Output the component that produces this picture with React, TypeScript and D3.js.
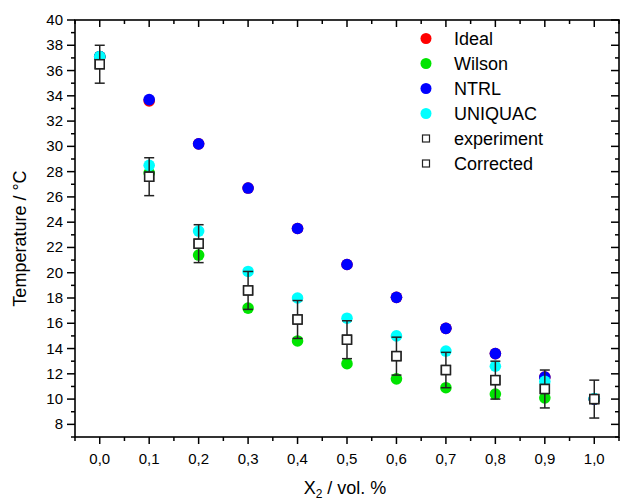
import React from "react";
import * as d3 from "d3";

const xValues = [0.0, 0.1, 0.2, 0.3, 0.4, 0.5, 0.6, 0.7, 0.8, 0.9, 1.0];
const ideal = [37.1, 33.6, 30.2, 26.7, 23.5, 20.65, 18.05, 15.6, 13.6, 11.75, 10.0];
const wilson = [37.1, 27.9, 21.4, 17.2, 14.6, 12.8, 11.6, 10.9, 10.4, 10.1, 10.0];
const ntrl = [37.1, 33.7, 30.2, 26.7, 23.5, 20.65, 18.05, 15.6, 13.6, 11.75, 10.0];
const uniquac = [37.1, 28.5, 23.3, 20.1, 18.0, 16.4, 15.0, 13.8, 12.6, 11.4, 10.05];
const experiment = [36.5, 27.6, 22.3, 18.6, 16.3, 14.7, 13.4, 12.3, 11.5, 10.8, 10.0];
const experimentErr = [1.5, 1.5, 1.5, 1.5, 1.5, 1.5, 1.5, 1.4, 1.5, 1.5, 1.5];
const corrected = [36.5, 27.6, 22.3, 18.6, 16.3, 14.7, 13.4, 12.3, 11.5, 10.8, 10.0];

const xTickLabels = ["0,0", "0,1", "0,2", "0,3", "0,4", "0,5", "0,6", "0,7", "0,8", "0,9", "1,0"];
const yTickValues = [8, 10, 12, 14, 16, 18, 20, 22, 24, 26, 28, 30, 32, 34, 36, 38, 40];

const circleSeries = [
  { name: "Ideal", values: ideal, color: "#ff0000" },
  { name: "Wilson", values: wilson, color: "#00e400" },
  { name: "NTRL", values: ntrl, color: "#0000ff" },
  { name: "UNIQUAC", values: uniquac, color: "#00ffff" },
];

const W = 621;
const H = 503;
const left = 75;
const right = 619;
const top = 20;
const bottom = 437;
const FONT = "'Liberation Sans', Arial, sans-serif";

export default function App() {
  const x = d3.scaleLinear().domain([-0.05, 1.05]).range([left, right]);
  const y = d3.scaleLinear().domain([7, 40]).range([bottom, top]);

  const xMinor = d3.range(-0.05, 1.051, 0.05).map((v) => Math.round(v * 100) / 100);
  const yMinor = d3.range(7, 40.01, 1);

  const legendLabels = ["Ideal", "Wilson", "NTRL", "UNIQUAC", "experiment", "Corrected"];

  return (
    <svg
      width={W}
      height={H}
      style={{ position: "absolute", left: 0, top: 0, background: "#fff" }}
      fontFamily={FONT}
    >
      <rect x={0} y={0} width={W} height={H} fill="#fff" />
      {/* frame */}
      <rect x={left} y={top} width={right - left} height={bottom - top} fill="none" stroke="#000" strokeWidth={1.6} />

      {/* x ticks bottom (outward) and top (inward) */}
      {xMinor.map((v, i) => {
        const isMajor = i % 2 === 1;
        const len = isMajor ? 7 : 4;
        return (
          <g key={"xt" + i}>
            <line x1={x(v)} x2={x(v)} y1={bottom} y2={bottom + len} stroke="#000" strokeWidth={1.5} />
            <line x1={x(v)} x2={x(v)} y1={top} y2={top + len} stroke="#000" strokeWidth={1.5} />
          </g>
        );
      })}
      {xValues.map((v, i) => (
        <text key={"xl" + i} x={x(v)} y={bottom + 27} fontSize={15} textAnchor="middle" fill="#000">
          {xTickLabels[i]}
        </text>
      ))}

      {/* y ticks left (outward) and right (inward) */}
      {yMinor.map((v, i) => {
        const isMajor = v % 2 === 0;
        const len = isMajor ? 8 : 4;
        return (
          <g key={"yt" + i}>
            <line x1={left - len} x2={left} y1={y(v)} y2={y(v)} stroke="#000" strokeWidth={1.5} />
            <line x1={right - len} x2={right} y1={y(v)} y2={y(v)} stroke="#000" strokeWidth={1.5} />
          </g>
        );
      })}
      {yTickValues.map((v) => (
        <text key={"yl" + v} x={left - 12} y={y(v) + 5} fontSize={15} textAnchor="end" fill="#000">
          {v}
        </text>
      ))}

      {/* axis titles */}
      <text
        transform={`translate(26, ${(top + bottom) / 2 + 10}) rotate(-90)`}
        fontSize={18}
        textAnchor="middle"
        fill="#000"
      >
        Temperature / °C
      </text>
      <text x={(left + right) / 2 - 2} y={494} fontSize={18} textAnchor="middle" fill="#000">
        X<tspan fontSize={12} dy={4}>2</tspan>
        <tspan dy={-4}> / vol. %</tspan>
      </text>

      {/* circle series */}
      {circleSeries.map((s) => (
        <g key={s.name}>
          {s.values.map((v, i) => (
            <circle key={i} cx={x(xValues[i])} cy={y(v)} r={5.8} fill={s.color} />
          ))}
        </g>
      ))}

      {/* error bars */}
      {experiment.map((v, i) => {
        const cx = x(xValues[i]);
        const e = experimentErr[i];
        return (
          <g key={"eb" + i} stroke="#222" strokeWidth={1.5}>
            <line x1={cx} x2={cx} y1={y(v + e)} y2={y(v - e)} />
            <line x1={cx - 5} x2={cx + 5} y1={y(v + e)} y2={y(v + e)} />
            <line x1={cx - 5} x2={cx + 5} y1={y(v - e)} y2={y(v - e)} />
          </g>
        );
      })}

      {/* squares */}
      {experiment.map((v, i) => (
        <rect key={"sq" + i} x={x(xValues[i]) - 4.5} y={y(v) - 4.5} width={9} height={9} fill="#fff" stroke="#222" strokeWidth={1.5} />
      ))}
      {corrected.map((v, i) => (
        <rect key={"cq" + i} x={x(xValues[i]) - 4.5} y={y(v) - 4.5} width={9} height={9} fill="#fff" stroke="#222" strokeWidth={1.5} />
      ))}

      {/* legend */}
      {legendLabels.map((name, i) => {
        const ly = 38.5 + i * 25;
        return (
          <g key={"lg" + name}>
            {i < 4 ? (
              <circle cx={426} cy={ly} r={5.5} fill={circleSeries[i].color} />
            ) : (
              <rect x={422.5} y={ly - 3.5} width={7} height={7} fill="#fff" stroke="#222" strokeWidth={1.2} />
            )}
            <text x={454} y={ly + 6} fontSize={18} fill="#000">
              {name}
            </text>
          </g>
        );
      })}
    </svg>
  );
}
